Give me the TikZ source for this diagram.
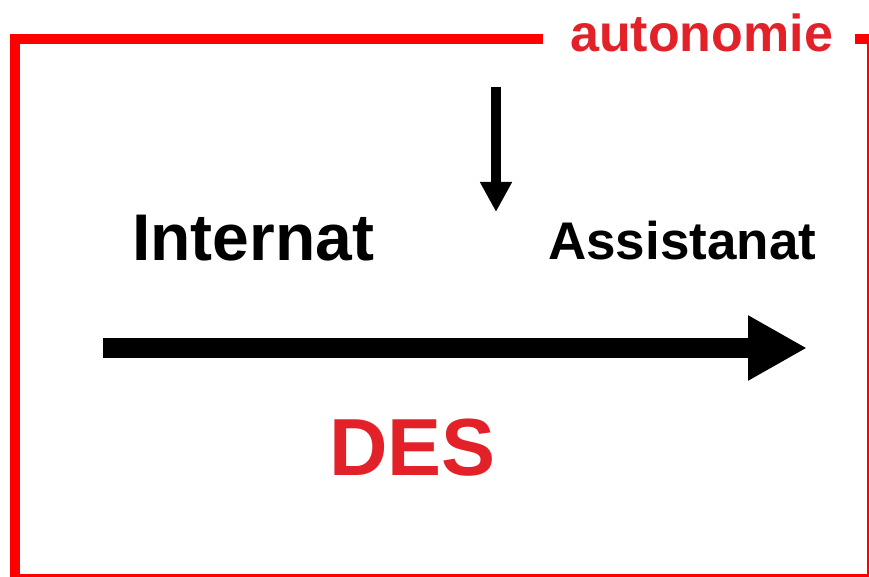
\documentclass[tikz,border=0pt]{standalone}
\usepackage{fontspec}
\setmainfont{Liberation Sans}
\usetikzlibrary{arrows.meta}
\definecolor{framered}{rgb}{1, 0, 0}
\definecolor{textred}{RGB}{226, 34, 40}

\begin{document}
\begin{tikzpicture}[x=1pt, y=-1pt,
    lbl/.style={anchor=base west, inner sep=0pt, font=\bfseries}]
    \useasboundingbox (0, 0) rectangle (869, 577);
    \clip (0, 0) rectangle (869, 577);

    \node[lbl, text=textred, font=\bfseries\fontsize{52}{60}\selectfont] (autonomie) at (570, 52) {autonomie};
    \node[lbl, font=\bfseries\fontsize{66}{76}\selectfont] (internat) at (132, 260) {Internat};
    \node[lbl, font=\bfseries\fontsize{53}{62}\selectfont] (assistanat) at (548, 259) {Assistanat};
    \node[lbl, text=textred, font=\bfseries\fontsize{81}{94}\selectfont] (des) at (329, 475) {DES};

    \draw[framered, line width=10pt] (543, 39) -| (15, 579) -| (872, 39) -- (855, 39);

    \coordinate (small-top) at (496, 87);
    \coordinate (small-tip) at (496, 212);
    \draw[line width=10pt, -{Triangle[length=30pt, width=30pt]}] (small-top) -- (small-tip);

    \coordinate (time-start) at (103, 348);
    \coordinate (time-end) at (807, 348);
    \draw[line width=20pt, -{Triangle[length=59pt, width=61pt]}] (time-start) -- (time-end);
  \end{tikzpicture}
\end{document}
